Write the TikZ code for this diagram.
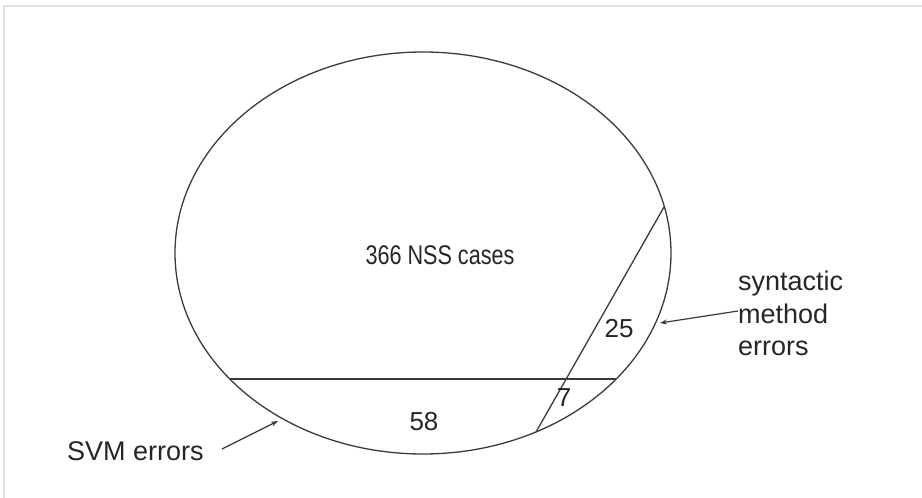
\documentclass[tikz,border=0pt]{standalone}
\usepackage{fontspec}
\setmainfont{Liberation Sans}
\newfontfamily\narrowsans[FakeStretch=0.8]{Liberation Sans}
\usetikzlibrary{arrows.meta,shapes.geometric}
\definecolor{ink}{HTML}{3A3A3A}
\definecolor{txt}{HTML}{262626}
\definecolor{frame}{HTML}{E2E2DC}
\begin{document}
\begin{tikzpicture}[x=1pt,y=-1pt,
  lbl/.style={text=txt,font=\fontsize{26}{32.5}\selectfont,inner sep=0pt},
  side/.style={text=txt,font=\fontsize{27}{32.5}\selectfont,inner sep=0pt},
  edge/.style={draw=ink,line width=1.3pt},
  pointer/.style={draw=ink,line width=1.2pt,-{Stealth[length=7pt,width=5pt]}}]
\useasboundingbox (0,0) rectangle (922,498);
\draw[frame,line width=2pt] (4,498) -- (4,6) -- (922,6);
\node[ellipse,draw=ink,line width=1.3pt,minimum width=496pt,minimum height=402pt,inner sep=0pt] (set) at (423,253) {};
\coordinate (hl) at (230,379);
\coordinate (hr) at (616,379);
\coordinate (st) at (664,207);
\coordinate (sb) at (536,432);
\draw[edge] (hl) -- (hr);
\draw[edge] (st) -- (sb);
\node[text=txt,font=\narrowsans\fontsize{27}{32}\selectfont,inner sep=0pt] (nss) at (440,255) {366 NSS cases};
\node[lbl] (n25) at (619,329) {25};
\node[lbl] (n7) at (564,398) {7};
\node[lbl] (n58) at (424,422) {58};
\node[side,align=left,anchor=north west] (syn) at (738,271) {syntactic\\method\\errors};
\node[side,anchor=base west] (svm) at (67,460) {SVM errors};
\coordinate (synt) at (738,311);
\coordinate (synp) at (660,323);
\coordinate (svmt) at (222,449);
\coordinate (svmp) at (278,421);
\draw[pointer] (synt) -- (synp);
\draw[pointer] (svmt) -- (svmp);
\end{tikzpicture}
\end{document}
